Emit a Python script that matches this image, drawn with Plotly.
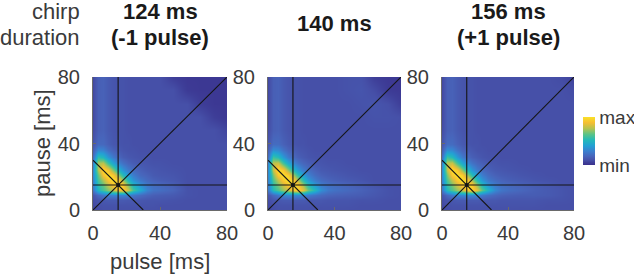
import plotly.graph_objects as go

# ---------------- data ----------------
pulse_ms = [0, 3, 6, 9, 12, 15, 18, 21, 24, 28, 32, 36, 40, 48, 56, 64, 72, 80]
pause_ms = [0, 3, 6, 9, 12, 15, 18, 21, 24, 28, 32, 36, 40, 48, 56, 64, 72, 80]

title_line1 = ["124 ms", "140 ms", "156 ms"]
title_line2 = ["(-1 pulse)", "", "(+1 pulse)"]
axis_ticks = [0, 40, 80]
ref_pulse = 15
ref_pause = 15
ref_period = 30

# response fields (rows = pause, cols = pulse), normalised 0 (min) .. 1 (max)
z_124 = [
    [0.08,0.09,0.10,0.10,0.10,0.10,0.10,0.10,0.10,0.10,0.10,0.10,0.10,0.10,0.10,0.10,0.10,0.10],
    [0.08,0.10,0.11,0.11,0.11,0.11,0.11,0.11,0.11,0.11,0.11,0.11,0.10,0.10,0.10,0.10,0.10,0.10],
    [0.09,0.12,0.13,0.14,0.14,0.14,0.14,0.13,0.13,0.13,0.12,0.12,0.12,0.11,0.10,0.10,0.10,0.10],
    [0.12,0.20,0.25,0.28,0.30,0.30,0.30,0.28,0.25,0.21,0.18,0.16,0.15,0.14,0.11,0.10,0.10,0.10],
    [0.25,0.50,0.60,0.70,0.78,0.88,0.92,0.80,0.60,0.45,0.30,0.24,0.22,0.18,0.11,0.10,0.10,0.10],
    [0.28,0.55,0.65,0.78,0.90,1.00,0.90,0.70,0.50,0.36,0.26,0.22,0.20,0.16,0.10,0.10,0.10,0.10],
    [0.30,0.60,0.75,0.90,1.00,0.92,0.72,0.50,0.36,0.26,0.20,0.17,0.15,0.13,0.10,0.10,0.10,0.10],
    [0.32,0.65,0.90,1.00,0.92,0.72,0.52,0.38,0.28,0.20,0.17,0.14,0.13,0.12,0.10,0.10,0.10,0.10],
    [0.32,0.75,0.98,0.90,0.70,0.50,0.36,0.27,0.21,0.17,0.14,0.13,0.12,0.11,0.10,0.10,0.10,0.10],
    [0.30,0.75,0.78,0.58,0.42,0.30,0.23,0.18,0.15,0.13,0.12,0.11,0.11,0.10,0.10,0.10,0.10,0.10],
    [0.22,0.55,0.50,0.36,0.26,0.19,0.15,0.13,0.12,0.11,0.11,0.10,0.10,0.10,0.10,0.10,0.10,0.10],
    [0.16,0.32,0.30,0.22,0.17,0.14,0.12,0.11,0.11,0.10,0.10,0.10,0.10,0.10,0.10,0.10,0.10,0.10],
    [0.12,0.20,0.20,0.16,0.13,0.12,0.11,0.11,0.10,0.10,0.10,0.10,0.10,0.10,0.10,0.10,0.10,0.10],
    [0.09,0.16,0.17,0.14,0.12,0.11,0.11,0.10,0.10,0.10,0.10,0.10,0.10,0.10,0.10,0.10,0.10,0.07],
    [0.08,0.16,0.17,0.14,0.12,0.11,0.11,0.10,0.10,0.10,0.10,0.10,0.10,0.10,0.10,0.10,0.05,0.03],
    [0.08,0.16,0.17,0.14,0.12,0.11,0.11,0.10,0.10,0.10,0.10,0.10,0.10,0.10,0.10,0.05,0.03,0.03],
    [0.08,0.16,0.17,0.14,0.12,0.11,0.11,0.10,0.10,0.10,0.10,0.10,0.10,0.10,0.04,0.03,0.03,0.03],
    [0.08,0.16,0.17,0.14,0.12,0.11,0.11,0.10,0.10,0.10,0.10,0.10,0.10,0.05,0.03,0.03,0.03,0.03],
]

z_140 = [
    [0.08,0.09,0.10,0.10,0.10,0.10,0.10,0.10,0.10,0.10,0.10,0.10,0.10,0.10,0.10,0.10,0.10,0.10],
    [0.08,0.10,0.11,0.11,0.11,0.11,0.11,0.11,0.11,0.11,0.11,0.11,0.11,0.11,0.10,0.10,0.10,0.10],
    [0.09,0.12,0.13,0.14,0.14,0.14,0.14,0.14,0.13,0.13,0.13,0.12,0.12,0.12,0.11,0.11,0.10,0.10],
    [0.12,0.20,0.26,0.30,0.32,0.32,0.32,0.30,0.27,0.23,0.20,0.18,0.17,0.16,0.15,0.13,0.11,0.10],
    [0.26,0.52,0.62,0.72,0.80,0.90,0.95,0.85,0.66,0.50,0.34,0.26,0.23,0.20,0.17,0.14,0.11,0.10],
    [0.28,0.56,0.68,0.80,0.92,1.00,0.92,0.74,0.54,0.38,0.28,0.23,0.21,0.18,0.15,0.12,0.10,0.10],
    [0.30,0.62,0.78,0.92,1.00,0.94,0.75,0.54,0.38,0.27,0.21,0.18,0.16,0.14,0.12,0.10,0.10,0.10],
    [0.32,0.68,0.92,1.00,0.94,0.75,0.55,0.40,0.29,0.21,0.17,0.15,0.14,0.12,0.11,0.10,0.10,0.10],
    [0.32,0.78,1.00,0.92,0.72,0.52,0.38,0.28,0.22,0.17,0.14,0.13,0.12,0.11,0.10,0.10,0.10,0.10],
    [0.30,0.78,0.80,0.60,0.44,0.32,0.24,0.19,0.16,0.13,0.12,0.11,0.11,0.10,0.10,0.10,0.10,0.10],
    [0.22,0.58,0.52,0.38,0.27,0.20,0.16,0.14,0.12,0.11,0.11,0.10,0.10,0.10,0.10,0.10,0.10,0.10],
    [0.16,0.34,0.32,0.24,0.18,0.15,0.13,0.12,0.11,0.10,0.10,0.10,0.10,0.10,0.10,0.10,0.10,0.10],
    [0.12,0.21,0.21,0.17,0.14,0.12,0.11,0.11,0.10,0.10,0.10,0.10,0.10,0.10,0.10,0.10,0.10,0.10],
    [0.09,0.16,0.17,0.14,0.12,0.11,0.11,0.10,0.10,0.10,0.10,0.10,0.10,0.10,0.10,0.10,0.10,0.10],
    [0.08,0.16,0.17,0.14,0.12,0.11,0.11,0.10,0.10,0.10,0.10,0.10,0.10,0.10,0.10,0.11,0.11,0.10],
    [0.08,0.16,0.17,0.14,0.12,0.11,0.11,0.10,0.10,0.10,0.10,0.10,0.10,0.10,0.11,0.12,0.10,0.05],
    [0.08,0.16,0.17,0.14,0.12,0.11,0.11,0.10,0.10,0.10,0.10,0.10,0.10,0.11,0.12,0.09,0.04,0.03],
    [0.08,0.16,0.17,0.14,0.12,0.11,0.11,0.10,0.10,0.10,0.10,0.10,0.10,0.11,0.11,0.05,0.03,0.03],
]

z_156 = [
    [0.08,0.09,0.10,0.10,0.10,0.10,0.10,0.10,0.10,0.10,0.10,0.10,0.10,0.10,0.10,0.10,0.10,0.10],
    [0.08,0.10,0.11,0.11,0.11,0.11,0.11,0.11,0.11,0.11,0.11,0.11,0.11,0.11,0.11,0.10,0.10,0.10],
    [0.09,0.12,0.13,0.14,0.14,0.14,0.14,0.14,0.13,0.13,0.13,0.12,0.12,0.12,0.12,0.11,0.11,0.10],
    [0.12,0.20,0.26,0.30,0.32,0.32,0.32,0.30,0.26,0.22,0.19,0.17,0.16,0.15,0.15,0.14,0.12,0.10],
    [0.26,0.52,0.62,0.72,0.80,0.90,0.95,0.84,0.64,0.48,0.32,0.25,0.22,0.19,0.16,0.14,0.12,0.10],
    [0.28,0.56,0.68,0.80,0.92,1.00,0.92,0.72,0.52,0.36,0.27,0.22,0.20,0.17,0.15,0.13,0.11,0.10],
    [0.30,0.62,0.78,0.92,1.00,0.94,0.74,0.52,0.37,0.26,0.21,0.18,0.16,0.14,0.12,0.11,0.10,0.10],
    [0.32,0.68,0.92,1.00,0.94,0.74,0.53,0.38,0.28,0.21,0.17,0.15,0.14,0.12,0.11,0.10,0.10,0.10],
    [0.32,0.78,1.00,0.92,0.72,0.52,0.37,0.27,0.21,0.17,0.14,0.13,0.12,0.11,0.10,0.10,0.10,0.10],
    [0.30,0.78,0.80,0.60,0.44,0.32,0.24,0.19,0.16,0.13,0.12,0.11,0.11,0.10,0.10,0.10,0.10,0.10],
    [0.22,0.58,0.52,0.38,0.27,0.20,0.16,0.14,0.12,0.11,0.11,0.10,0.10,0.10,0.10,0.10,0.10,0.10],
    [0.16,0.34,0.32,0.24,0.18,0.15,0.13,0.11,0.11,0.10,0.10,0.10,0.10,0.10,0.10,0.10,0.10,0.10],
    [0.12,0.21,0.21,0.17,0.14,0.12,0.11,0.11,0.10,0.10,0.10,0.10,0.10,0.10,0.10,0.10,0.10,0.10],
    [0.09,0.16,0.17,0.14,0.12,0.11,0.11,0.10,0.10,0.10,0.10,0.10,0.10,0.10,0.10,0.10,0.10,0.10],
    [0.08,0.16,0.17,0.14,0.12,0.11,0.11,0.10,0.10,0.10,0.10,0.10,0.10,0.10,0.10,0.10,0.10,0.10],
    [0.08,0.16,0.17,0.14,0.12,0.11,0.11,0.10,0.10,0.10,0.10,0.10,0.10,0.10,0.10,0.10,0.10,0.10],
    [0.08,0.16,0.17,0.14,0.12,0.11,0.11,0.10,0.10,0.10,0.10,0.10,0.10,0.10,0.10,0.10,0.10,0.09],
    [0.08,0.16,0.17,0.14,0.12,0.11,0.11,0.10,0.10,0.10,0.10,0.10,0.10,0.10,0.10,0.10,0.09,0.06],
]

fields = [z_124, z_140, z_156]

# ---------------- style ----------------
W, H = 634, 276
FONT = "Liberation Sans, Arial, Helvetica, sans-serif"
TXT = "#3a3a3a"

colorscale = [
    [0.00, "rgb(58,48,140)"],
    [0.05, "rgb(62,62,152)"],
    [0.10, "rgb(70,80,168)"],
    [0.18, "rgb(72,100,186)"],
    [0.28, "rgb(60,125,205)"],
    [0.40, "rgb(35,160,212)"],
    [0.52, "rgb(35,185,185)"],
    [0.64, "rgb(90,195,135)"],
    [0.76, "rgb(180,195,80)"],
    [0.88, "rgb(245,190,50)"],
    [1.00, "rgb(250,225,40)"],
]

# panel pixel boxes (left, right), shared top/bottom
panel_px = [(93, 227), (268, 401), (442, 574)]
top_px, bot_px = 77, 210

fig = go.Figure()

for i, z in enumerate(fields):
    xa = "x" if i == 0 else f"x{i+1}"
    ya = "y" if i == 0 else f"y{i+1}"
    hm = dict(
        x=pulse_ms, y=pause_ms, z=z, zmin=0, zmax=1, zsmooth="best",
        colorscale=colorscale, xaxis=xa, yaxis=ya, showscale=(i == 0),
        hoverinfo="skip",
    )
    if i == 0:
        hm["colorbar"] = dict(
            x=583 / W, xanchor="left", y=1 - 141 / H, yanchor="middle",
            len=48, lenmode="pixels", thickness=12, thicknessmode="pixels",
            outlinewidth=0, xpad=0, ypad=0, tickvals=[0, 1], ticktext=["min", "max"],
            ticks="", tickfont=dict(family=FONT, size=19, color=TXT),
        )
    fig.add_trace(go.Heatmap(**hm))

    lo, hi = axis_ticks[0], axis_ticks[-1]
    line_sets = [
        ([ref_pulse, ref_pulse], [lo, hi]),
        ([lo, hi], [ref_pause, ref_pause]),
        ([lo, hi], [lo, hi]),
        ([lo, ref_period], [ref_period, lo]),
    ]
    for lx, ly in line_sets:
        fig.add_trace(go.Scatter(x=lx, y=ly, mode="lines", xaxis=xa, yaxis=ya,
                                 line=dict(color="#151515", width=1.1),
                                 showlegend=False, hoverinfo="skip"))
    fig.add_trace(go.Scatter(x=[ref_pulse], y=[ref_pause], mode="markers", xaxis=xa, yaxis=ya,
                             marker=dict(color="#151515", size=4), showlegend=False,
                             hoverinfo="skip"))

    l, r = panel_px[i]
    axis_common = dict(
        range=[axis_ticks[0], axis_ticks[-1]], tickvals=axis_ticks,
        showgrid=False, zeroline=False, showline=True, linecolor="#6a6a6a", linewidth=1,
        ticks="inside", ticklen=3, tickcolor="#6a6a6a", automargin=False,
        tickfont=dict(family=FONT, size=20, color=TXT),
    )
    fig.layout[("xaxis" if i == 0 else f"xaxis{i+1}")] = dict(
        axis_common, domain=[l / W, r / W], anchor=ya, ticklabelstandoff=5,
    )
    fig.layout[("yaxis" if i == 0 else f"yaxis{i+1}")] = dict(
        axis_common, domain=[1 - bot_px / H, 1 - top_px / H], anchor=xa, ticklabelstandoff=8,
    )

    cx = (l + r) / 2 / W
    if title_line2[i]:
        fig.add_annotation(text=f"<b>{title_line1[i]}</b>", x=cx, y=1 - 12 / H,
                           xref="paper", yref="paper", xanchor="center", yanchor="middle",
                           showarrow=False, font=dict(family=FONT, size=22, color="#1a1a1a"))
        fig.add_annotation(text=f"<b>{title_line2[i]}</b>", x=cx, y=1 - 37 / H,
                           xref="paper", yref="paper", xanchor="center", yanchor="middle",
                           showarrow=False, font=dict(family=FONT, size=22, color="#1a1a1a"))
    else:
        fig.add_annotation(text=f"<b>{title_line1[i]}</b>", x=cx, y=1 - 24 / H,
                           xref="paper", yref="paper", xanchor="center", yanchor="middle",
                           showarrow=False, font=dict(family=FONT, size=22, color="#1a1a1a"))

fig.add_annotation(text="chirp", x=82 / W, y=1 - 12 / H, xref="paper", yref="paper",
                   xanchor="right", yanchor="middle", showarrow=False,
                   font=dict(family=FONT, size=22, color=TXT))
fig.add_annotation(text="duration", x=82 / W, y=1 - 37 / H, xref="paper", yref="paper",
                   xanchor="right", yanchor="middle", showarrow=False,
                   font=dict(family=FONT, size=22, color=TXT))
fig.add_annotation(text="pulse [ms]", x=160 / W, y=1 - 261 / H, xref="paper", yref="paper",
                   xanchor="center", yanchor="middle", showarrow=False,
                   font=dict(family=FONT, size=22, color=TXT))
fig.add_annotation(text="pause [ms]", x=42 / W, y=1 - 143 / H, xref="paper", yref="paper",
                   xanchor="center", yanchor="middle", textangle=-90, showarrow=False,
                   font=dict(family=FONT, size=22, color=TXT))

fig.update_layout(
    width=W, height=H, margin=dict(l=0, r=0, t=0, b=0, autoexpand=False),
    paper_bgcolor="white", plot_bgcolor="white", showlegend=False,
)

fig.write_html("out.html", config={"displayModeBar": False},
               post_script="document.body.style.margin='0px';document.body.style.padding='0px';")
